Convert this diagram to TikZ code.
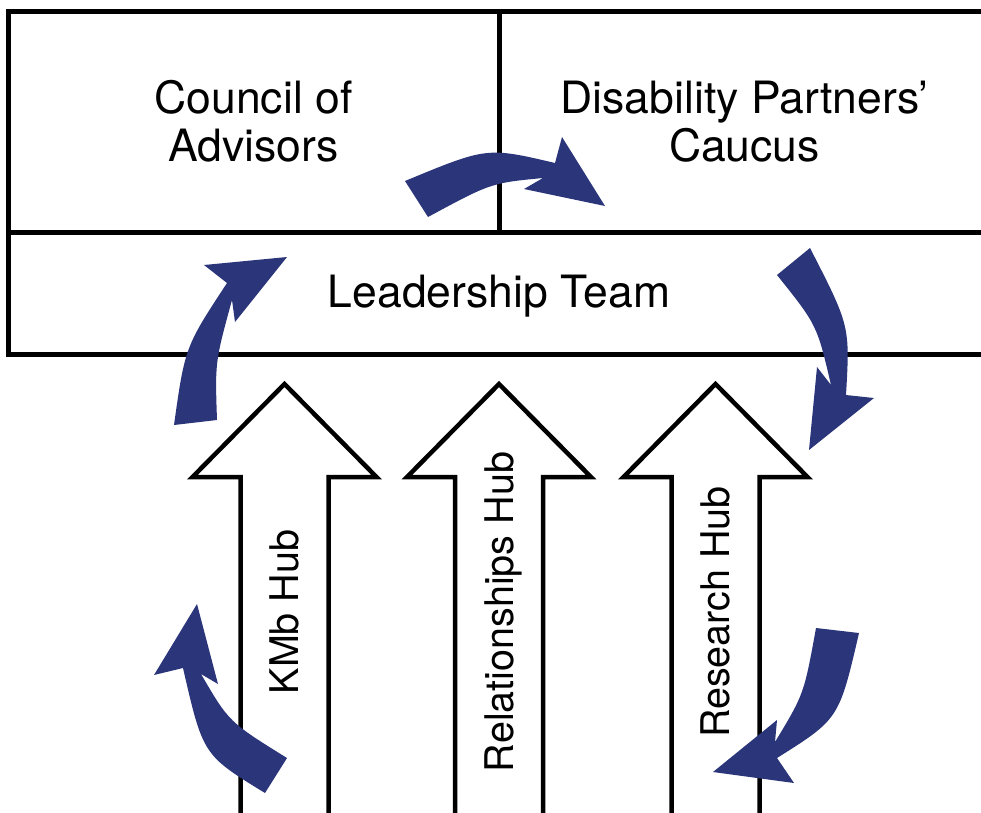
\documentclass[tikz,border=0pt]{standalone}
\usepackage{fontspec}
\setmainfont{TeX Gyre Heros}
\usepackage{xcolor}
\usetikzlibrary{calc}
\definecolor{cyclenavy}{RGB}{43,53,122}

\begin{document}
\begin{tikzpicture}[x=1pt, y=-1pt,
    panel/.style={draw, line width=5pt, align=center, font=\fontsize{44.5}{48}\selectfont},
    hubshape/.style={draw, fill=white, line width=4.5pt, line join=miter},
    hubtext/.style={rotate=90, inner sep=0pt, text height=28.5pt, text depth=0pt, font=\fontsize{39.5}{44}\selectfont},
    swirl/.style={fill=cyclenavy}]
    \useasboundingbox (0,0) rectangle (981,812);
    \clip (0,0) rectangle (981,812);
    \node[panel, minimum width=491pt, minimum height=221pt] (council) at (253.5,121.5) {Council of\\Advisors};
    \node[panel, minimum width=491pt, minimum height=221pt] (caucus) at (744.5,121.5) {Disability Partners'\\Caucus};
    \node[panel, minimum width=982pt, minimum height=122pt, text depth=3pt] (leadership) at (499,293) {Leadership Team};
    \foreach \cx/\hub/\txt in {284.5/kmb/KMb Hub, 499/rel/Relationships Hub, 715.5/res/Research Hub} {
        \draw[hubshape] (\cx-44,840) -- (\cx-44,477) -- (\cx-92,477) -- (\cx,384) -- (\cx+92,477) -- (\cx+44,477) -- (\cx+44,840) -- cycle;
        \node[hubtext] (\hub) at (\cx,612) {\txt};
    }
    \fill[swirl] (405,181) .. controls (487,147) .. (555,163) -- (562,137) -- (605,206) -- (524,189) -- (543,178) .. controls (491,183) .. (428,217) -- cycle;
    \fill[swirl] (174,425) .. controls (185,347) .. (227,283) -- (204,265) -- (287,257) -- (235,322) -- (232,300) .. controls (215,362) .. (217,420) -- cycle;
    \fill[swirl] (810,248) .. controls (850,326) .. (846,395) -- (874,398) -- (809,450) -- (817,367) -- (831,385) .. controls (817,325) .. (777,275) -- cycle;
    \fill[swirl] (265,793) .. controls (203,755) .. (183,668) -- (154,675) -- (197,604) -- (218,684) -- (201,674) .. controls (229,722) .. (287,758) -- cycle;
    \fill[swirl] (859,633) .. controls (839,719) .. (777,758) -- (794,783) -- (713,772) -- (777,720) -- (775,742) .. controls (804,694) .. (816,628) -- cycle;
\end{tikzpicture}
\end{document}
